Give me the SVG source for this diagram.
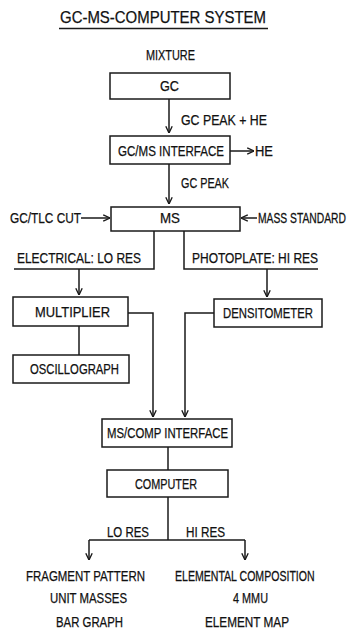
<svg xmlns="http://www.w3.org/2000/svg" width="355" height="629" viewBox="0 0 355 629">
<style>
.box{fill:#fff;stroke:#1a1a1a;stroke-width:1.5}
.ln{fill:none;stroke:#1a1a1a;stroke-width:1.5}
.t{font-family:"Liberation Sans","DejaVu Sans Condensed",sans-serif;font-size:14.2px;fill:#111;stroke:#111;stroke-width:0.25}
.ttl{font-size:16.5px}
</style>
<defs>
<marker id="ah" viewBox="0 0 10 10" refX="9.5" refY="5" markerWidth="8" markerHeight="8" markerUnits="userSpaceOnUse" orient="auto">
<path d="M1,1 L9.5,5 L1,9" fill="none" stroke="#1a1a1a" stroke-width="1.7"/>
</marker>
</defs>
<rect width="355" height="629" fill="#fff"/>
<g id="title">
<text class="t ttl" x="163" y="23" text-anchor="middle" textLength="206" lengthAdjust="spacingAndGlyphs">GC-MS-COMPUTER SYSTEM</text>
<line class="ln" x1="59" y1="28.5" x2="268" y2="28.5"/>
</g>
<g id="mixture"><text class="t" x="170.5" y="60" text-anchor="middle" textLength="49" lengthAdjust="spacingAndGlyphs">MIXTURE</text></g>
<g id="gc"><rect class="box" x="110" y="73" width="120" height="26"/><text class="t" x="169.5" y="91" text-anchor="middle" textLength="19" lengthAdjust="spacingAndGlyphs">GC</text></g>
<g id="gcms"><rect class="box" x="110" y="136" width="120" height="28"/><text class="t" x="171" y="156" text-anchor="middle" textLength="106" lengthAdjust="spacingAndGlyphs">GC/MS INTERFACE</text></g>
<g id="ms"><rect class="box" x="111" y="207" width="129" height="24"/><text class="t" x="170" y="223" text-anchor="middle" textLength="20" lengthAdjust="spacingAndGlyphs">MS</text></g>
<g id="multiplier"><rect class="box" x="13" y="297" width="115" height="29"/><text class="t" x="72.5" y="317" text-anchor="middle" textLength="75" lengthAdjust="spacingAndGlyphs">MULTIPLIER</text></g>
<g id="densitometer"><rect class="box" x="214" y="299" width="108" height="28"/><text class="t" x="268" y="318" text-anchor="middle" textLength="90" lengthAdjust="spacingAndGlyphs">DENSITOMETER</text></g>
<g id="oscillograph"><rect class="box" x="13" y="355" width="116" height="28"/><text class="t" x="74.5" y="374" text-anchor="middle" textLength="89" lengthAdjust="spacingAndGlyphs">OSCILLOGRAPH</text></g>
<g id="mscomp"><rect class="box" x="102" y="419" width="130" height="28"/><text class="t" x="167.5" y="438" text-anchor="middle" textLength="121" lengthAdjust="spacingAndGlyphs">MS/COMP INTERFACE</text></g>
<g id="computer"><rect class="box" x="107" y="470" width="121" height="27"/><text class="t" x="166" y="489" text-anchor="middle" textLength="62" lengthAdjust="spacingAndGlyphs">COMPUTER</text></g>
<g id="lores-out">
<text class="t" x="85.5" y="581" text-anchor="middle" textLength="119" lengthAdjust="spacingAndGlyphs">FRAGMENT PATTERN</text>
<text class="t" x="88.5" y="603" text-anchor="middle" textLength="77" lengthAdjust="spacingAndGlyphs">UNIT MASSES</text>
<text class="t" x="89.5" y="627" text-anchor="middle" textLength="67" lengthAdjust="spacingAndGlyphs">BAR GRAPH</text>
</g>
<g id="hires-out">
<text class="t" transform="translate(175,581) scale(1,1.343)" x="0" y="0" style="font-size:10.57px;stroke-width:0.2">ELEMENTAL COMPOSITION</text>
<text class="t" x="250.5" y="603" text-anchor="middle" textLength="35" lengthAdjust="spacingAndGlyphs">4 MMU</text>
<text class="t" x="247" y="627" text-anchor="middle" textLength="84" lengthAdjust="spacingAndGlyphs">ELEMENT MAP</text>
</g>
<g id="connectors">
<line class="ln" x1="169" y1="99" x2="169" y2="133" marker-end="url(#ah)"/>
<text class="t" x="181" y="125" textLength="86" lengthAdjust="spacingAndGlyphs">GC PEAK + HE</text>
<line class="ln" x1="230" y1="151" x2="254" y2="151" marker-end="url(#ah)"/>
<text class="t" x="255" y="156" textLength="18" lengthAdjust="spacingAndGlyphs">HE</text>
<line class="ln" x1="169" y1="164" x2="169" y2="204" marker-end="url(#ah)"/>
<text class="t" x="181" y="188" textLength="48" lengthAdjust="spacingAndGlyphs">GC PEAK</text>
<text class="t" x="81" y="223" text-anchor="end" textLength="71" lengthAdjust="spacingAndGlyphs">GC/TLC CUT</text>
<line class="ln" x1="81" y1="218" x2="110" y2="218" marker-end="url(#ah)"/>
<text class="t" transform="translate(258,223) scale(1,1.38)" x="0" y="0" style="font-size:10.3px;stroke-width:0.2">MASS STANDARD</text>
<line class="ln" x1="257" y1="218" x2="241" y2="218" marker-end="url(#ah)"/>
<polyline class="ln" points="154,231 154,269 14,269"/>
<text class="t" x="17" y="263" textLength="124" lengthAdjust="spacingAndGlyphs">ELECTRICAL: LO RES</text>
<polyline class="ln" points="184,231 184,269 318,269"/>
<text class="t" x="318" y="263" text-anchor="end" textLength="126" lengthAdjust="spacingAndGlyphs">PHOTOPLATE: HI RES</text>
<line class="ln" x1="79" y1="269" x2="79" y2="295" marker-end="url(#ah)"/>
<line class="ln" x1="267" y1="269" x2="267" y2="297" marker-end="url(#ah)"/>
<line class="ln" x1="79" y1="326" x2="79" y2="355"/>
<polyline class="ln" points="128,313 153,313 153,417" marker-end="url(#ah)"/>
<polyline class="ln" points="214,313 185,313 185,417" marker-end="url(#ah)"/>
<line class="ln" x1="168" y1="447" x2="168" y2="470"/>
<line class="ln" x1="168" y1="497" x2="168" y2="540"/>
<line class="ln" x1="89" y1="540" x2="245" y2="540"/>
<line class="ln" x1="89" y1="540" x2="89" y2="560" marker-end="url(#ah)"/>
<line class="ln" x1="245" y1="540" x2="245" y2="560" marker-end="url(#ah)"/>
<text class="t" x="149" y="537" text-anchor="end" textLength="42" lengthAdjust="spacingAndGlyphs">LO RES</text>
<text class="t" x="186" y="537" textLength="39" lengthAdjust="spacingAndGlyphs">HI RES</text>
</g>
</svg>
